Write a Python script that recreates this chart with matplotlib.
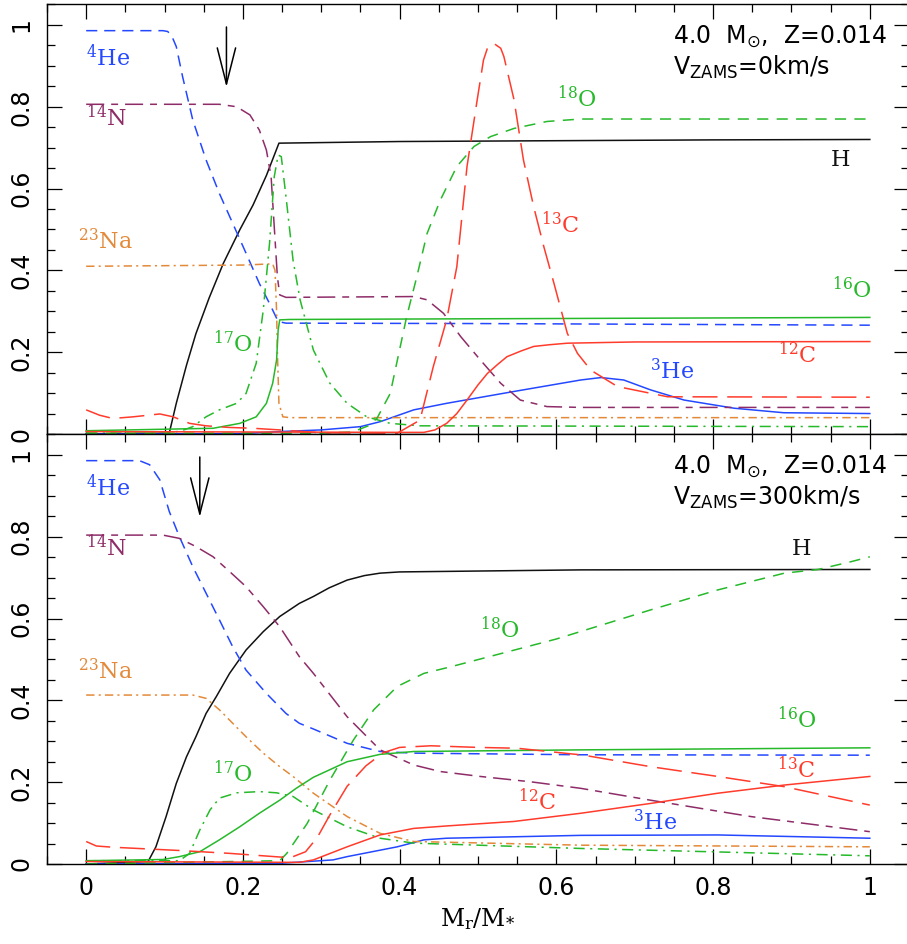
"""
Abundance profiles (mass fraction vs. M_r/M_*) for a 4 Msun, Z=0.014 model,
non-rotating (top) and V_ZAMS = 300 km/s (bottom).
"""

import matplotlib
matplotlib.use("Agg")
import matplotlib.pyplot as plt
from matplotlib.ticker import MultipleLocator, FuncFormatter

plt.rcParams["lines.scale_dashes"] = False

# ---------------------------------------------------------------- V = 0 km/s
TOP_H_X = [0, 0.106, 0.115, 0.128, 0.14, 0.157, 0.175, 0.196, 0.213, 0.23, 0.246,
           0.4, 0.6, 0.8, 1.0]
TOP_H_Y = [0, 0.002, 0.075, 0.168, 0.245, 0.333, 0.417, 0.499, 0.56, 0.632, 0.711,
           0.715, 0.717, 0.719, 0.72]

TOP_HE4_X = [0, 0.098, 0.104, 0.109, 0.115, 0.123, 0.136, 0.153, 0.17, 0.187, 0.204,
             0.221, 0.234, 0.245, 0.255, 0.5, 1.0]
TOP_HE4_Y = [0.986, 0.986, 0.984, 0.974, 0.947, 0.874, 0.768, 0.67, 0.588, 0.515, 0.442,
             0.368, 0.319, 0.275, 0.271, 0.27, 0.266]

TOP_N14_X = [0, 0.17, 0.192, 0.209, 0.221, 0.23, 0.236, 0.24, 0.244, 0.247, 0.255,
             0.418, 0.435, 0.456, 0.478, 0.503, 0.529, 0.554, 0.588, 0.631, 1.0]
TOP_N14_Y = [0.806, 0.806, 0.80, 0.78, 0.743, 0.694, 0.629, 0.507, 0.385, 0.34, 0.334,
             0.336, 0.328, 0.295, 0.238, 0.181, 0.124, 0.083, 0.067, 0.065, 0.065]

TOP_NA23_X = [0, 0.2, 0.238, 0.241, 0.243, 0.244, 0.246, 0.251, 0.26, 1.0]
TOP_NA23_Y = [0.41, 0.413, 0.416, 0.40, 0.3, 0.2, 0.075, 0.042, 0.04, 0.04]

TOP_O17_X = [0, 0.1, 0.119, 0.136, 0.153, 0.17, 0.192, 0.204, 0.217, 0.226, 0.234, 0.24,
             0.245, 0.249, 0.255, 0.264, 0.273, 0.29, 0.311, 0.333, 0.358, 0.388, 0.426, 1.0]
TOP_O17_Y = [0.005, 0.005, 0.006, 0.018, 0.042, 0.059, 0.075, 0.099, 0.173, 0.303, 0.466,
             0.629, 0.682, 0.678, 0.58, 0.425, 0.328, 0.205, 0.124, 0.075, 0.042, 0.026,
             0.02, 0.018]

TOP_O16_X = [0, 0.162, 0.196, 0.217, 0.23, 0.238, 0.243, 0.245, 0.247, 0.26, 0.4, 1.0]
TOP_O16_Y = [0.008, 0.014, 0.026, 0.042, 0.075, 0.124, 0.181, 0.254, 0.279, 0.28, 0.281, 0.285]

TOP_O18_X = [0, 0.3, 0.34, 0.36, 0.371, 0.388, 0.409, 0.422, 0.435, 0.452, 0.473, 0.495,
             0.516, 0.546, 0.588, 0.631, 1.0]
TOP_O18_Y = [0.002, 0.002, 0.005, 0.02, 0.038, 0.099, 0.287, 0.385, 0.49, 0.572, 0.654, 0.703,
             0.727, 0.747, 0.764, 0.77, 0.77]

TOP_C13_X = [0, 0.017, 0.034, 0.06, 0.094, 0.111, 0.132, 0.153, 0.183, 0.213, 0.247, 0.3,
             0.397, 0.426, 0.443, 0.46, 0.473, 0.486, 0.499, 0.507, 0.512, 0.52, 0.529,
             0.533, 0.546, 0.558, 0.571, 0.584, 0.597, 0.614, 0.627, 0.644, 0.678,
             0.742, 1.0]
TOP_C13_Y = [0.059, 0.046, 0.038, 0.042, 0.049, 0.042, 0.026, 0.02, 0.016, 0.014, 0.01, 0.003,
             0.002, 0.034, 0.165, 0.279, 0.409, 0.654, 0.817, 0.914, 0.943, 0.955, 0.943,
             0.923, 0.817, 0.67, 0.556, 0.458, 0.368, 0.246, 0.197, 0.156, 0.116,
             0.091, 0.09]

TOP_C12_X = [0, 0.4, 0.431, 0.445, 0.46, 0.473, 0.486, 0.5, 0.512, 0.525, 0.537, 0.555,
             0.571, 0.59, 0.614, 0.7, 1.0]
TOP_C12_Y = [0.006, 0.004, 0.004, 0.01, 0.026, 0.05, 0.083, 0.12, 0.148, 0.17, 0.189, 0.203,
             0.214, 0.218, 0.222, 0.225, 0.226]

TOP_HE3_X = [0, 0.2, 0.247, 0.3, 0.35, 0.375, 0.418, 0.46, 0.546, 0.631, 0.657, 0.686,
             0.72, 0.763, 0.827, 0.89, 1.0]
TOP_HE3_Y = [0.0, 0.001, 0.006, 0.01, 0.018, 0.03, 0.059, 0.075, 0.104, 0.132, 0.138, 0.132,
             0.108, 0.083, 0.063, 0.052, 0.05]

# -------------------------------------------------------------- V = 300 km/s
BOT_H_X = [0, 0.079, 0.089, 0.102, 0.115, 0.128, 0.14, 0.153, 0.166, 0.183, 0.204, 0.226,
           0.247, 0.272, 0.29, 0.31, 0.333, 0.355, 0.375, 0.4, 0.631, 1.0]
BOT_H_Y = [0, 0.006, 0.042, 0.116, 0.197, 0.262, 0.311, 0.368, 0.409, 0.466, 0.523, 0.568,
           0.605, 0.637, 0.654, 0.675, 0.694, 0.705, 0.711, 0.714, 0.719, 0.72]

BOT_HE4_X = [0, 0.068, 0.081, 0.094, 0.106, 0.119, 0.136, 0.153, 0.17, 0.187, 0.204, 0.23,
             0.255, 0.272, 0.29, 0.333, 0.375, 0.418, 0.631, 1.0]
BOT_HE4_Y = [0.986, 0.986, 0.976, 0.939, 0.862, 0.80, 0.727, 0.662, 0.597, 0.531, 0.474,
             0.417, 0.368, 0.344, 0.33, 0.295, 0.275, 0.271, 0.267, 0.266]

BOT_N14_X = [0, 0.098, 0.119, 0.14, 0.162, 0.183, 0.204, 0.226, 0.247, 0.272, 0.29, 0.333,
             0.375, 0.418, 0.452, 0.503, 0.567, 0.631, 0.72, 0.848, 1.0]
BOT_N14_Y = [0.804, 0.804, 0.796, 0.776, 0.751, 0.715, 0.678, 0.629, 0.58, 0.507, 0.466,
             0.36, 0.279, 0.242, 0.226, 0.214, 0.201, 0.185, 0.156, 0.116, 0.079]

BOT_NA23_X = [0, 0.136, 0.153, 0.17, 0.187, 0.204, 0.226, 0.247, 0.264, 0.29, 0.333, 0.375,
              0.418, 0.631, 1.0]
BOT_NA23_Y = [0.413, 0.413, 0.405, 0.377, 0.344, 0.311, 0.271, 0.238, 0.214, 0.173, 0.116,
              0.075, 0.055, 0.046, 0.042]

BOT_O17_X = [0, 0.119, 0.132, 0.145, 0.158, 0.17, 0.192, 0.221, 0.243, 0.264, 0.29, 0.333,
             0.375, 0.418, 0.631, 1.0]
BOT_O17_Y = [0.008, 0.008, 0.026, 0.083, 0.132, 0.161, 0.174, 0.177, 0.174, 0.165, 0.132,
             0.091, 0.063, 0.051, 0.038, 0.02]

BOT_O16_X = [0, 0.098, 0.119, 0.145, 0.17, 0.196, 0.221, 0.247, 0.268, 0.29, 0.333, 0.375,
             0.418, 0.631, 1.0]
BOT_O16_Y = [0.008, 0.011, 0.018, 0.03, 0.059, 0.091, 0.124, 0.156, 0.185, 0.212, 0.25,
             0.268, 0.275, 0.279, 0.284]

BOT_O18_X = [0, 0.247, 0.256, 0.282, 0.311, 0.341, 0.367, 0.397, 0.431, 0.465, 0.6, 0.72,
             0.806, 0.891, 0.934, 0.976, 1.0]
BOT_O18_Y = [0.0, 0.008, 0.026, 0.099, 0.205, 0.303, 0.377, 0.434, 0.466, 0.482, 0.55, 0.621,
             0.67, 0.711, 0.72, 0.739, 0.751]

BOT_C13_X = [0, 0.013, 0.034, 0.119, 0.183, 0.226, 0.255, 0.264, 0.28, 0.295, 0.311, 0.333,
             0.357, 0.379, 0.4, 0.44, 0.5, 0.55, 0.635, 0.72, 0.806, 0.891, 1.0]
BOT_C13_Y = [0.055, 0.044, 0.041, 0.033, 0.026, 0.02, 0.016, 0.018, 0.03, 0.065, 0.12, 0.19,
             0.24, 0.272, 0.285, 0.289, 0.285, 0.283, 0.266, 0.238, 0.214, 0.189, 0.144]

BOT_C12_X = [0, 0.272, 0.29, 0.333, 0.375, 0.418, 0.46, 0.546, 0.631, 0.72, 0.806, 0.891, 1.0]
BOT_C12_Y = [0.006, 0.004, 0.01, 0.042, 0.071, 0.087, 0.093, 0.104, 0.124, 0.148, 0.173,
             0.193, 0.214]

BOT_HE3_X = [0, 0.25, 0.315, 0.333, 0.397, 0.431, 0.46, 0.631, 0.806, 1.0]
BOT_HE3_Y = [0.0, 0.002, 0.01, 0.018, 0.042, 0.059, 0.063, 0.07, 0.071, 0.063]

# label text and where it sits (data coords) in each panel
SPECIES = ["H", "He4", "He3", "N14", "Na23", "O16", "O17", "O18", "C12", "C13"]
LABELS = {
    "H": "H", "He4": r"$^{4}$He", "He3": r"$^{3}$He", "N14": r"$^{14}$N",
    "Na23": r"$^{23}$Na", "O16": r"$^{16}$O", "O17": r"$^{17}$O", "O18": r"$^{18}$O",
    "C12": r"$^{12}$C", "C13": r"$^{13}$C",
}
TOP_LABEL_POS = {
    "H": (0.95, 0.67), "He4": (0.0, 0.92), "He3": (0.72, 0.152), "N14": (0.0, 0.773),
    "Na23": (-0.01, 0.47), "O16": (0.952, 0.352), "O17": (0.162, 0.222),
    "O18": (0.601, 0.82), "C12": (0.883, 0.193), "C13": (0.581, 0.513),
}
BOT_LABEL_POS = {
    "H": (0.90, 0.77), "He4": (0.0, 0.92), "He3": (0.698, 0.10), "N14": (0.0, 0.773),
    "Na23": (-0.01, 0.47), "O16": (0.882, 0.352), "O17": (0.162, 0.222),
    "O18": (0.502, 0.572), "C12": (0.551, 0.152), "C13": (0.882, 0.23),
}
ARROW_X = [0.179, 0.145]
VZAMS = [0, 300]

BLUE = "#2448ff"
PURPLE = "#8e2c68"
ORANGE = "#e38a3a"
GREEN = "#26b92a"
RED = "#ff3b2c"
BLACK = "#111111"

STYLE = {
    "H": dict(color=BLACK, ls="-"),
    "He4": dict(color=BLUE, ls=(0, (8, 5))),
    "He3": dict(color=BLUE, ls="-"),
    "N14": dict(color=PURPLE, ls=(0, (13, 5, 5, 5))),
    "Na23": dict(color=ORANGE, ls=(0, (6, 3, 1.5, 3))),
    "O16": dict(color=GREEN, ls="-"),
    "O17": dict(color=GREEN, ls=(0, (8, 4, 1.5, 4))),
    "O18": dict(color=GREEN, ls=(0, (8, 6))),
    "C12": dict(color=RED, ls="-"),
    "C13": dict(color=RED, ls=(0, (18, 7))),
}

top_curves = {
    "H": (TOP_H_X, TOP_H_Y), "He4": (TOP_HE4_X, TOP_HE4_Y), "He3": (TOP_HE3_X, TOP_HE3_Y),
    "N14": (TOP_N14_X, TOP_N14_Y), "Na23": (TOP_NA23_X, TOP_NA23_Y),
    "O16": (TOP_O16_X, TOP_O16_Y), "O17": (TOP_O17_X, TOP_O17_Y),
    "O18": (TOP_O18_X, TOP_O18_Y), "C12": (TOP_C12_X, TOP_C12_Y),
    "C13": (TOP_C13_X, TOP_C13_Y),
}
bot_curves = {
    "H": (BOT_H_X, BOT_H_Y), "He4": (BOT_HE4_X, BOT_HE4_Y), "He3": (BOT_HE3_X, BOT_HE3_Y),
    "N14": (BOT_N14_X, BOT_N14_Y), "Na23": (BOT_NA23_X, BOT_NA23_Y),
    "O16": (BOT_O16_X, BOT_O16_Y), "O17": (BOT_O17_X, BOT_O17_Y),
    "O18": (BOT_O18_X, BOT_O18_Y), "C12": (BOT_C12_X, BOT_C12_Y),
    "C13": (BOT_C13_X, BOT_C13_Y),
}


def style_axes(ax, show_xlabels):
    ax.set_xlim(-0.05, 1.05)
    ax.set_ylim(0, 1.05)
    ax.xaxis.set_major_locator(MultipleLocator(0.2))
    ax.xaxis.set_minor_locator(MultipleLocator(0.05))
    ax.yaxis.set_major_locator(MultipleLocator(0.2))
    ax.yaxis.set_minor_locator(MultipleLocator(0.05))
    fmt = FuncFormatter(lambda v, _: f"{v:.1f}".rstrip("0").rstrip(".") if v else "0")
    ax.xaxis.set_major_formatter(fmt)
    ax.yaxis.set_major_formatter(fmt)
    ax.tick_params(which="both", direction="in", top=True, right=True, width=0.9)
    ax.tick_params(which="major", length=11)
    ax.tick_params(which="minor", length=5.5)
    ax.tick_params(axis="y", labelrotation=90, pad=10, labelsize=17)
    ax.tick_params(axis="x", pad=9, labelsize=17, labelbottom=show_xlabels)
    for lab in ax.get_yticklabels():
        lab.set_verticalalignment("center")
    for sp in ax.spines.values():
        sp.set_linewidth(1.0)


def draw_panel(ax, curves, label_pos, arrow_x, vzams):
    for name in SPECIES:
        x, y = curves[name]
        ax.plot(x, y, lw=1.1, solid_joinstyle="round", **STYLE[name])
    for name in SPECIES:
        tx, ty = label_pos[name]
        ax.text(tx, ty, LABELS[name], color=STYLE[name]["color"], fontsize=16,
                family="DejaVu Serif", math_fontfamily="dejavuserif",
                ha="left", va="center")
    ax.annotate("", xy=(arrow_x, 0.848), xytext=(arrow_x, 0.995),
                arrowprops=dict(arrowstyle="->,head_length=1.3,head_width=0.33",
                                lw=1.1, color="k", mutation_scale=20,
                                shrinkA=0, shrinkB=0))
    ax.text(0.749, 0.97, r"4.0  M$_{\odot}$,  Z=0.014", fontsize=17,
            family="DejaVu Sans", math_fontfamily="dejavusans", va="center", ha="left")
    ax.text(0.749, 0.895, r"V$_{\rm ZAMS}$=" + f"{vzams}km/s", fontsize=17,
            family="DejaVu Sans", math_fontfamily="dejavusans", va="center", ha="left")


fig = plt.figure(figsize=(9.07, 9.44), dpi=100)
ax_top = fig.add_axes([0.0518, 0.54025, 0.9504, 0.455])
ax_bot = fig.add_axes([0.0518, 0.08475, 0.9504, 0.455])

draw_panel(ax_top, top_curves, TOP_LABEL_POS, ARROW_X[0], VZAMS[0])
draw_panel(ax_bot, bot_curves, BOT_LABEL_POS, ARROW_X[1], VZAMS[1])
style_axes(ax_top, False)
style_axes(ax_bot, True)

ax_bot.set_xlabel(r"M$_{\rm r}$/M$_{*}$", fontsize=17, family="DejaVu Serif",
                  math_fontfamily="dejavuserif", labelpad=4)

fig.savefig("out.png", dpi=100)
